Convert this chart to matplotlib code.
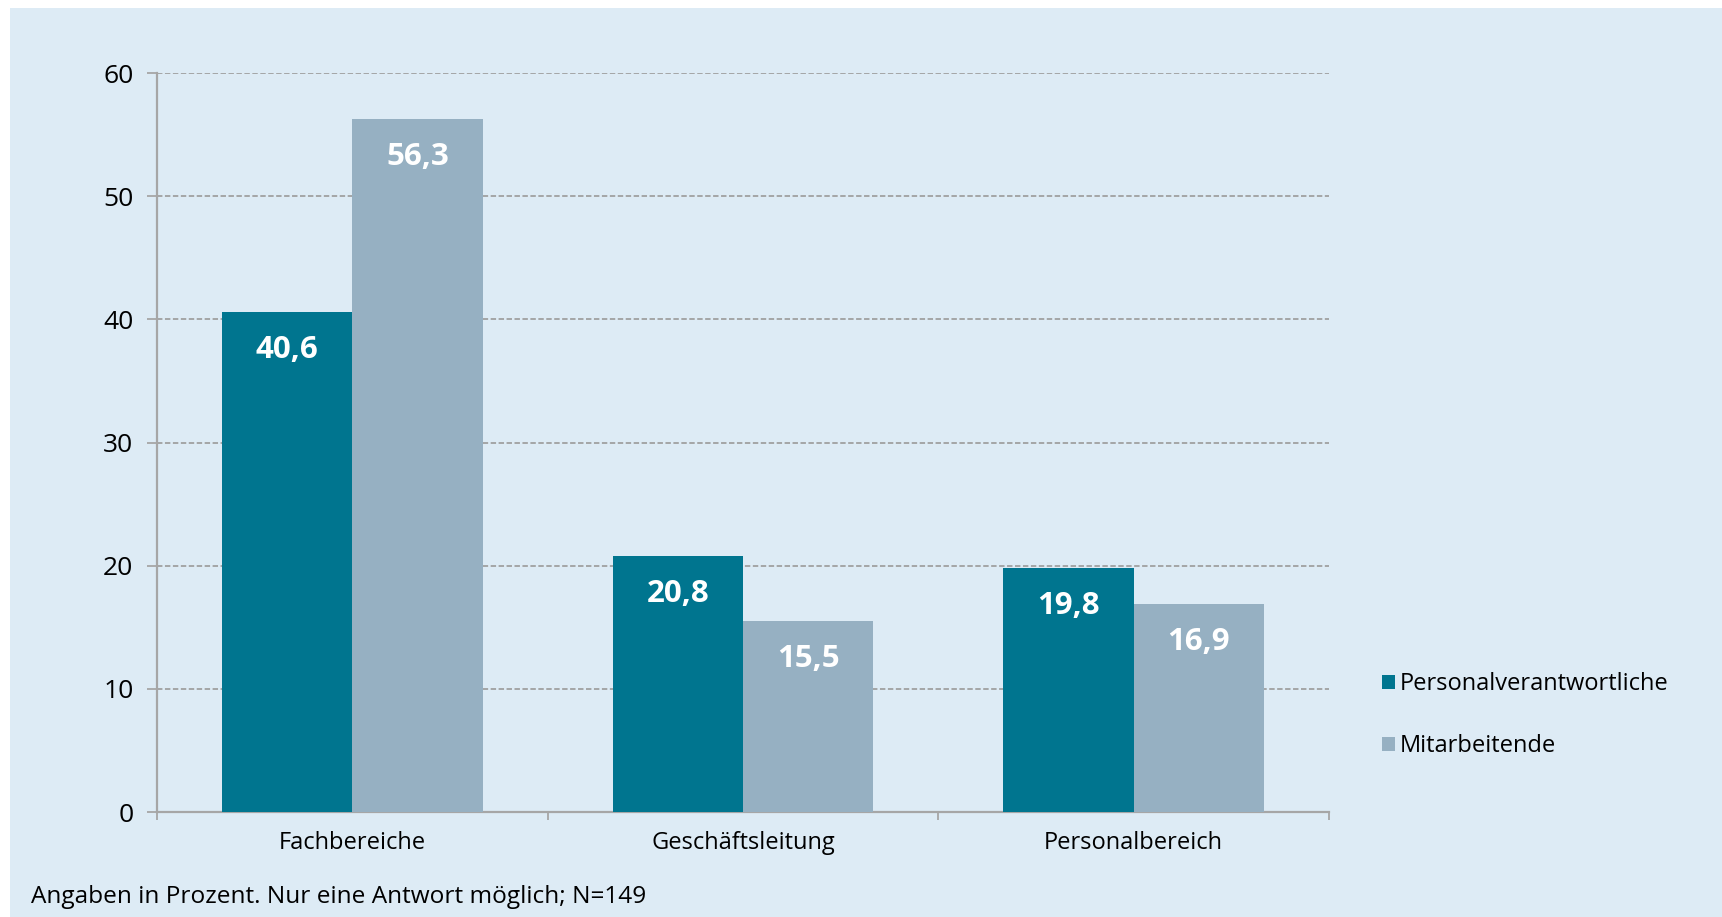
import matplotlib
matplotlib.use('Agg')
import matplotlib.pyplot as plt
from matplotlib.patches import Patch, Rectangle
import numpy as np

# data
categories = ['Fachbereiche', 'Geschäftsleitung', 'Personalbereich']
series_names = ['Personalverantwortliche', 'Mitarbeitende']
personal = [40.6, 20.8, 19.8]
mitarbeiter = [56.3, 15.5, 16.9]
y_ticks = [0, 10, 20, 30, 40, 50, 60]
footnote = 'Angaben in Prozent. Nur eine Antwort möglich; N=149'

DARK = '#00758f'
LIGHT = '#96b0c2'
BG = '#ddebf5'
GRID = '#a0a0a0'
AXIS = '#a6a6a6'

plt.rcParams['font.family'] = ['Open Sans', 'DejaVu Sans']

fig = plt.figure(figsize=(17.22, 9.17), dpi=100)
fig.patch.set_facecolor('white')
# light blue panel behind everything
fig.patches.append(Rectangle((10 / 1722, 0), 1 - 10 / 1722, 1 - 8 / 917,
                             transform=fig.transFigure, facecolor=BG,
                             edgecolor='none', zorder=-10))

ax = fig.add_axes([157 / 1722, 1 - 812 / 917, (1329 - 157) / 1722, (812 - 73) / 917])
ax.set_facecolor('none')

x = np.arange(len(categories))
w = 0.334
b1 = ax.bar(x - w / 2, personal, w, color=DARK, zorder=3)
b2 = ax.bar(x + w / 2, mitarbeiter, w, color=LIGHT, zorder=3)

for bars, vals in [(b1, personal), (b2, mitarbeiter)]:
    for bar, v in zip(bars, vals):
        ax.annotate(f'{v:.1f}'.replace('.', ','),
                    (bar.get_x() + bar.get_width() / 2, v),
                    xytext=(0, -27.5), textcoords='offset points',
                    ha='center', va='center', color='white',
                    fontsize=22.5, fontweight='bold', zorder=4)

ax.set_xlim(-0.5, len(categories) - 0.5)
ax.set_ylim(0, 60)
ax.set_yticks(y_ticks)
ax.yaxis.grid(True, color=GRID, linestyle=(0, (3, 1.4)), linewidth=1.3, zorder=1)
ax.set_axisbelow(True)

ax.set_xticks(np.arange(-0.5, len(categories)), minor=False)
ax.set_xticklabels([])
ax.set_xticks(x, minor=True)
ax.set_xticklabels(categories, minor=True, fontsize=17)
ax.tick_params(axis='x', which='minor', length=0, pad=14)
ax.tick_params(axis='x', which='major', length=6, width=1.3, color=AXIS)
ax.tick_params(axis='y', length=7, width=1.3, color=AXIS, labelsize=19, pad=10)

for s in ['top', 'right']:
    ax.spines[s].set_visible(False)
for s in ['left', 'bottom']:
    ax.spines[s].set_color(AXIS)
    ax.spines[s].set_linewidth(1.6)

handles = [Patch(facecolor=DARK, label=series_names[0]),
           Patch(facecolor=LIGHT, label=series_names[1])]
fig.legend(handles=handles, loc='upper left', bbox_to_anchor=(1361 / 1722, 1 - 651 / 917),
           frameon=False, fontsize=17, handlelength=0.55, handleheight=0.55,
           handletextpad=0.2, labelspacing=1.6)

fig.text(31 / 1722, 1 - 897 / 917, footnote, fontsize=17.6, va='center', ha='left')

fig.savefig('out.png', dpi=100, facecolor=fig.get_facecolor())
